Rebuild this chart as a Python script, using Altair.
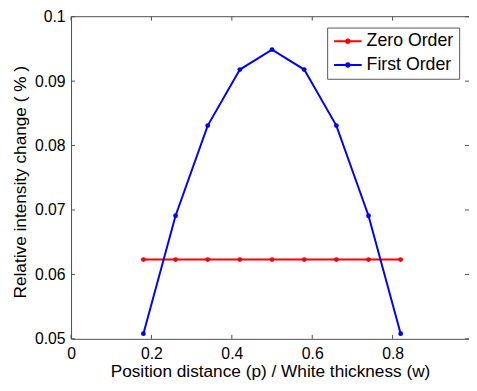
import altair as alt
import pandas as pd

# ---- data ----
x_vals = [0.18, 0.26, 0.34, 0.42, 0.50, 0.58, 0.66, 0.74, 0.82]
zero_order = [0.0623, 0.0623, 0.0623, 0.0623, 0.0623, 0.0623, 0.0623, 0.0623, 0.0623]
first_order = [0.0508, 0.0691, 0.0831, 0.0918, 0.0949, 0.0918, 0.0831, 0.0691, 0.0508]
series_names = ["Zero Order", "First Order"]
series_colors = ["#ff0000", "#0000ff"]
x_ticks = [0, 0.2, 0.4, 0.6, 0.8]
y_ticks = [0.05, 0.06, 0.07, 0.08, 0.09, 0.1]
x_title = "Position distance (p) / White thickness (w)"
y_title = "Relative intensity change ( % )"

rows = []
for name, vals in zip(series_names, [zero_order, first_order]):
    for xv, yv in zip(x_vals, vals):
        rows.append({"x": xv, "y": yv, "series": name})
df = pd.DataFrame(rows)

W, H = 404, 327
FONT = "Liberation Sans"
AX = "#4d4d4d"
TL = 4

xscale = alt.Scale(domain=[0, 0.99], nice=False, zero=False)
yscale = alt.Scale(domain=[0.05, 0.1], nice=False, zero=False)
cscale = alt.Scale(domain=series_names, range=series_colors)

x_axis = alt.Axis(values=x_ticks, format="~g", title=x_title, ticks=False, grid=False,
                  domainColor=AX, labelFontSize=16, titleFontSize=17.5, labelPadding=7,
                  titleY=38, titleBaseline="alphabetic", labelFont=FONT, titleFont=FONT,
                  labelColor="black", titleColor="black", titleFontWeight="normal",
                  labelFlush=False)
y_axis = alt.Axis(values=y_ticks, format="~g", title=y_title, ticks=False, grid=False,
                  domainColor=AX, labelFontSize=16, titleFontSize=17.5, labelPadding=6,
                  titleX=-46, titleY=H / 2 + 4, titleBaseline="alphabetic", titleAngle=270,
                  labelFont=FONT, titleFont=FONT, labelColor="black", titleColor="black",
                  titleFontWeight="normal", labelFlush=False)

PATH = ("M-1,-0.143L3,-0.143L3,0.143L-1,0.143Z "
        "M0.6,0A0.4,0.4 0 1,1 1.4,0A0.4,0.4 0 1,1 0.6,0Z")

legend = alt.Legend(title=None, orient="none", legendX=260, legendY=11,
                    symbolType=PATH, symbolSize=196, labelFontSize=18,
                    labelFont=FONT, labelColor="black", padding=5,
                    labelOffset=17, rowPadding=6, strokeColor="#555555",
                    fillColor="white", symbolOpacity=1,
                    symbolStrokeWidth=0, direction="vertical")

base = alt.Chart(df)
color = alt.Color("series:N", scale=cscale, sort=series_names, legend=legend)

points = base.mark_circle(size=24, opacity=1).encode(
    x=alt.X("x:Q", scale=xscale, axis=x_axis),
    y=alt.Y("y:Q", scale=yscale, axis=y_axis),
    color=color,
)
red_line = base.transform_filter(alt.datum.series == series_names[0]).mark_line(strokeWidth=2).encode(
    x=alt.X("x:Q", scale=xscale, axis=x_axis),
    y=alt.Y("y:Q", scale=yscale, axis=y_axis),
    color=color,
)
blue_line = base.transform_filter(alt.datum.series == series_names[1]).mark_line(strokeWidth=2).encode(
    x=alt.X("x:Q", scale=xscale, axis=x_axis),
    y=alt.Y("y:Q", scale=yscale, axis=y_axis),
    color=color,
)

xt = alt.Chart(pd.DataFrame({"t": x_ticks}))
yt = alt.Chart(pd.DataFrame({"t": y_ticks}))
bottom_ticks = xt.mark_rule(color=AX).encode(
    x=alt.X("t:Q", scale=xscale, axis=x_axis), y=alt.value(H), y2=alt.value(H - TL))
top_ticks = xt.mark_rule(color=AX).encode(
    x=alt.X("t:Q", scale=xscale, axis=x_axis), y=alt.value(0), y2=alt.value(TL))
left_ticks = yt.mark_rule(color=AX).encode(
    y=alt.Y("t:Q", scale=yscale, axis=y_axis), x=alt.value(0), x2=alt.value(TL))
right_ticks = yt.mark_rule(color=AX).encode(
    y=alt.Y("t:Q", scale=yscale, axis=y_axis), x=alt.value(W - TL), x2=alt.value(W))
top_border = alt.Chart(pd.DataFrame({"a": [0]})).mark_rule(color=AX).encode(
    x=alt.value(0), x2=alt.value(W), y=alt.value(0))

chart = alt.layer(
    points, red_line, blue_line, bottom_ticks, top_ticks, left_ticks, right_ticks, top_border
).properties(
    width=W, height=H,
    padding={"left": 64, "top": 6, "right": 0, "bottom": 42},
    autosize="none",
    background="white",
).configure_view(stroke=None)

chart.save("out.html", embed_options={"renderer": "svg", "actions": False})
